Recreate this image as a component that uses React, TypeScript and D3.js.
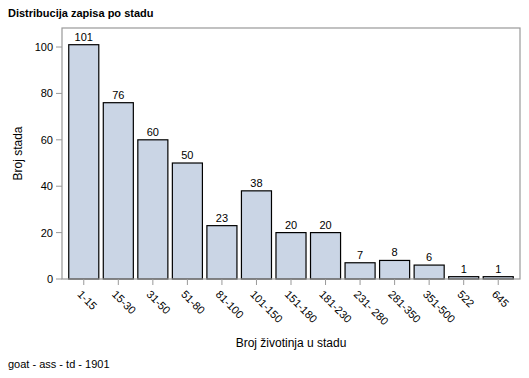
import React from "react";
import * as d3 from "d3";

const categories = ["1-15", "15-30", "31-50", "51-80", "81-100", "101-150", "151-180", "181-230", "231- 280", "281-350", "351-500", "522", "645"];
const counts = [101, 76, 60, 50, 23, 38, 20, 20, 7, 8, 6, 1, 1];
const yTicks = [0, 20, 40, 60, 80, 100];

const W = 529, H = 378;
const L = 62, R = 520, T = 28, B = 279;
const FONT = "'Liberation Sans', Arial, sans-serif";

export default function App() {
  const x = d3.scaleBand<string>().domain(categories).range([L + 4.5, R - 4.5]).paddingInner(0.13).paddingOuter(0.065);
  const y = d3.scaleLinear().domain([0, 108.2]).range([B, T]);
  return (
    <svg width={W} height={H} style={{ position: "absolute", left: 0, top: 0, background: "#fff" }} fontFamily={FONT}>
      <rect x={0} y={0} width={W} height={H} fill="#fff" />
      <text x={8} y={17} fontSize={11} fontWeight="bold" fill="#000">Distribucija zapisa po stadu</text>
      {categories.map((c, i) => (
        <g key={c}>
          <rect x={x(c)!} y={y(counts[i])} width={x.bandwidth()} height={B - y(counts[i])} fill="#CAD5E5" stroke="#000" strokeWidth={1.2} />
          <text x={x(c)! + x.bandwidth() / 2} y={y(counts[i]) - 4} fontSize={11} textAnchor="middle" fill="#000">{counts[i]}</text>
          <line x1={x(c)! + x.bandwidth() / 2} x2={x(c)! + x.bandwidth() / 2} y1={B} y2={B + 6} stroke="#999" />
          <text transform={`translate(${x(c)! + x.bandwidth() / 2 - 7},${B + 16}) rotate(45)`} fontSize={11} fill="#000">{c}</text>
        </g>
      ))}
      <rect x={L} y={T} width={R - L} height={B - T} fill="none" stroke="#999" strokeWidth={1.2} />
      {yTicks.map(t => (
        <g key={t}>
          <line x1={L - 6} x2={L} y1={y(t)} y2={y(t)} stroke="#999" />
          <text x={L - 9} y={y(t) + 4} fontSize={11} textAnchor="end" fill="#000">{t}</text>
        </g>
      ))}
      <text transform={`translate(22,${(T + B) / 2}) rotate(-90)`} fontSize={12} textAnchor="middle" fill="#000">Broj stada</text>
      <text x={291} y={347} fontSize={12} textAnchor="middle" fill="#000">Broj životinja u stadu</text>
      <text x={8} y={368} fontSize={11} fill="#000">goat - ass - td - 1901</text>
    </svg>
  );
}
